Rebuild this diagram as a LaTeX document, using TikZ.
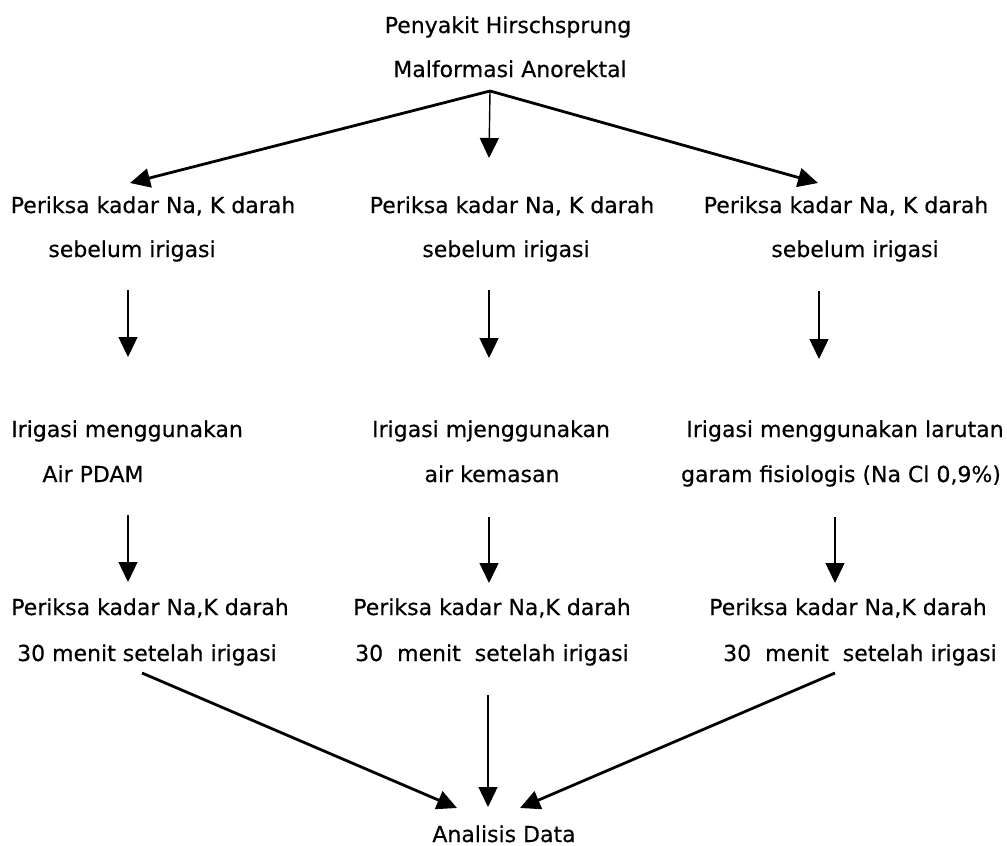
\documentclass[tikz,border=0pt]{standalone}
\usepackage{fontspec}
\setmainfont[FakeBold=0.4]{DejaVu Sans}
\usetikzlibrary{arrows.meta}
\begin{document}
\begin{tikzpicture}[x=1pt,y=-1pt,
  txt/.style={inner sep=0pt,anchor=base,font=\fontsize{22}{26}\selectfont},
  thick arrow/.style={line width=2.8pt,-{Triangle[length=20pt,width=19pt]}},
  thin arrow/.style={line width=1.4pt,-{Triangle[length=20pt,width=19pt]}}]
\useasboundingbox (0,0) rectangle (1007,846);
% top
\node[txt] (t1) at (508,33) {Penyakit Hirschsprung};
\node[txt] (t2) at (510,77) {Malformasi Anorektal};
\coordinate (apex) at (490,91);
% row 1
\node[txt] (a1) at (153,213) {Periksa kadar Na, K darah};
\node[txt] (a2) at (132,257) {sebelum irigasi};
\node[txt] (b1) at (512,213) {Periksa kadar Na, K darah};
\node[txt] (b2) at (506,257) {sebelum irigasi};
\node[txt] (c1) at (846,213) {Periksa kadar Na, K darah};
\node[txt] (c2) at (855,257) {sebelum irigasi};
% row 2
\node[txt] (d1) at (127,437) {Irigasi menggunakan};
\node[txt] (d2) at (93,482) {Air PDAM};
\node[txt] (e1) at (491,437) {Irigasi mjenggunakan};
\node[txt] (e2) at (492,482) {air kemasan};
\node[txt] (f1) at (845,437) {Irigasi menggunakan larutan};
\node[txt] (f2) at (841,482) {garam fisiologis (Na Cl 0,9\%)};
% row 3
\node[txt] (g1) at (150,615) {Periksa kadar Na,K darah};
\node[txt] (g2) at (147,661) {30 menit setelah irigasi};
\node[txt] (h1) at (492,615) {Periksa kadar Na,K darah};
\node[txt] (h2) at (492,661) {30~~menit~~setelah irigasi};
\node[txt] (i1) at (848,615) {Periksa kadar Na,K darah};
\node[txt] (i2) at (860,661) {30~~menit~~setelah irigasi};
% bottom
\node[txt] (z) at (504,842) {Analisis Data};
% connector end points
\coordinate (a1in) at (130,183);
\coordinate (b1in) at (489,158);
\coordinate (c1in) at (818,183);
\coordinate (a2out) at (128,290);
\coordinate (d1in) at (128,357);
\coordinate (b2out) at (489,290);
\coordinate (e1in) at (489,358);
\coordinate (c2out) at (819,291);
\coordinate (f1in) at (819,359);
\coordinate (d2out) at (128,515);
\coordinate (g1in) at (128,582);
\coordinate (e2out) at (489,517);
\coordinate (h1in) at (489,583);
\coordinate (f2out) at (835,517);
\coordinate (i1in) at (835,583);
\coordinate (g2out) at (142,673);
\coordinate (h2out) at (488,695);
\coordinate (i2out) at (835,673);
\coordinate (zinl) at (457,808);
\coordinate (zinm) at (488,807);
\coordinate (zinr) at (520,808);
% connectors
\draw[thick arrow] (apex) -- (a1in);
\draw[thin arrow] (apex) -- (b1in);
\draw[thick arrow] (apex) -- (c1in);
\draw[thin arrow] (a2out) -- (d1in);
\draw[thin arrow] (b2out) -- (e1in);
\draw[thin arrow] (c2out) -- (f1in);
\draw[thin arrow] (d2out) -- (g1in);
\draw[thin arrow] (e2out) -- (h1in);
\draw[thin arrow] (f2out) -- (i1in);
\draw[thick arrow] (g2out) -- (zinl);
\draw[thin arrow] (h2out) -- (zinm);
\draw[thick arrow] (i2out) -- (zinr);
\end{tikzpicture}
\end{document}
